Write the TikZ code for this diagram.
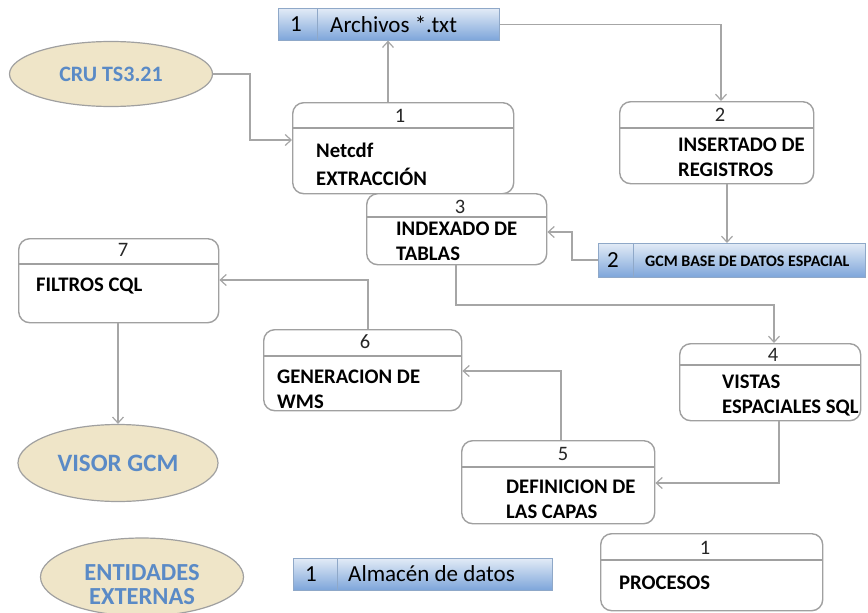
\documentclass[tikz,border=0pt]{standalone}
\usepackage{fontspec}
\setmainfont{Carlito}
\usetikzlibrary{shapes.geometric,arrows.meta,calc}
\definecolor{linegray}{HTML}{A6A6A6}
\definecolor{boxgray}{HTML}{A0A0A0}
\definecolor{exttext}{HTML}{5A8AC6}
\definecolor{extfill}{HTML}{EFE5C8}
\definecolor{storetop}{HTML}{E2EBF6}
\definecolor{storebot}{HTML}{7DA5DA}
\definecolor{storeedge}{HTML}{8FA8C8}
\tikzset{
  procbox/.style={draw=boxgray, line width=1.4pt, rounded corners=11pt, fill=white, inner sep=0pt, anchor=north west},
  procline/.style={draw=boxgray, line width=1.4pt},
  storebox/.style={draw=storeedge, line width=0.6pt, top color=storetop, bottom color=storebot, inner sep=0pt, anchor=north west},
  storecell/.style={draw=storeedge, line width=0.6pt},
  extbox/.style={ellipse, draw=boxgray, line width=1.2pt, fill=extfill, inner sep=0pt},
  exttxt/.style={font=\fontsize{22}{24}\selectfont\bfseries, text=exttext, align=center, inner sep=0pt},
  pnum/.style={font=\fontsize{20.5}{22}\selectfont, text=black!85, inner sep=0pt},
  ptext/.style={font=\fontsize{20.7}{25}\selectfont\bfseries, align=left, anchor=west, inner sep=0pt},
  stext/.style={font=\fontsize{23}{24}\selectfont, anchor=west, inner sep=0pt},
  flow/.style={draw=linegray, line width=1.3pt, -{Straight Barb[length=6pt,width=11pt,line width=1.2pt]}}
}
\begin{document}
\begin{tikzpicture}[x=1pt,y=-1pt]
\useasboundingbox (0,0) rectangle (868,613);

% ---------- external entities ----------
\node[extbox, minimum width=203pt, minimum height=65pt] (cru) at (111,74) {};
\node[exttxt] (crut) at (111,74) {CRU TS3.21};
\node[extbox, minimum width=200pt, minimum height=77pt] (visor) at (118,463) {};
\node[exttxt, font=\fontsize{25}{26}\selectfont\bfseries] (visort) at (118,463) {VISOR GCM};
\node[extbox, minimum width=203pt, minimum height=78pt] (ent) at (142,577) {};
\node[exttxt, font=\fontsize{24.5}{24}\selectfont\bfseries] (entt) at (142,585) {ENTIDADES\\EXTERNAS};

% ---------- data stores ----------
\node[storebox, minimum width=221pt, minimum height=32pt] (s1) at (278,8) {};
\draw[storecell] (317,8) -- (317,40);
\node[stext] (s1n) at (290,24) {1};
\node[stext] (s1t) at (330,24) {Archivos *.txt};

\node[storebox, minimum width=267pt, minimum height=34pt] (s2) at (598,243) {};
\draw[storecell] (633,243) -- (633,277);
\node[stext] (s2n) at (607,260) {2};
\node[stext, font=\fontsize{16}{18}\selectfont\bfseries] (s2t) at (645,261) {GCM BASE DE DATOS ESPACIAL};

\node[storebox, minimum width=259pt, minimum height=32pt] (sl) at (293,558) {};
\draw[storecell] (337,558) -- (337,590);
\node[stext] (sln) at (305,574) {1};
\node[stext] (slt) at (348,574) {Almacén de datos};

% ---------- processes ----------
\node[procbox, minimum width=221pt, minimum height=91pt] (p1) at (292,102) {};
\draw[procline] (p1.west |- 0,128) -- (p1.east |- 0,128);
\node[pnum] (p1n) at (400,116) {1};
\node[ptext] (p1t) at (316,164) {Netcdf\\[3pt]EXTRACCIÓN};

\node[procbox, minimum width=194pt, minimum height=82pt] (p2) at (619,101) {};
\draw[procline] (p2.west |- 0,128) -- (p2.east |- 0,128);
\node[pnum] (p2n) at (720,115) {2};
\node[ptext] (p2t) at (678,157) {INSERTADO DE\\REGISTROS};

\node[procbox, minimum width=180pt, minimum height=71pt] (p3) at (366,193) {};
\draw[procline] (p3.west |- 0,217) -- (p3.east |- 0,217);
\node[pnum] (p3n) at (460,207) {3};
\node[ptext] (p3t) at (396,241) {INDEXADO DE\\TABLAS};

\node[procbox, minimum width=181pt, minimum height=77pt] (p4) at (679,343) {};
\draw[procline] (p4.west |- 0,365) -- (p4.east |- 0,365);
\node[pnum] (p4n) at (773,355) {4};
\node[ptext] (p4t) at (722,396) {VISTAS\\ESPACIALES SQL};

\node[procbox, minimum width=193pt, minimum height=83pt] (p5) at (461,440) {};
\draw[procline] (p5.west |- 0,467) -- (p5.east |- 0,467);
\node[pnum] (p5n) at (563,454) {5};
\node[ptext] (p5t) at (506,499) {DEFINICION DE\\LAS CAPAS};

\node[procbox, minimum width=198pt, minimum height=81pt] (p6) at (263,329) {};
\draw[procline] (p6.west |- 0,356) -- (p6.east |- 0,356);
\node[pnum] (p6n) at (365,342) {6};
\node[ptext] (p6t) at (277,389) {GENERACION DE\\WMS};

\node[procbox, minimum width=200pt, minimum height=84pt] (p7) at (18,238) {};
\draw[procline] (p7.west |- 0,264) -- (p7.east |- 0,264);
\node[pnum] (p7n) at (123,250) {7};
\node[ptext] (p7t) at (36,286) {FILTROS CQL};

\node[procbox, minimum width=222pt, minimum height=77pt] (pl) at (600,533) {};
\draw[procline] (pl.west |- 0,560) -- (pl.east |- 0,560);
\node[pnum] (pln) at (705,548) {1};
\node[ptext] (plt) at (619,583) {PROCESOS};

% ---------- connectors ----------
\draw[flow] (cru.east) -- (250,0 |- cru.east) |- (p1.west |- 0,140);
\draw[flow] (388,0 |- p1.north) -- (388,0 |- s1.south);
\draw[flow] (s1.east) -- (721,0 |- s1.east) -- (721,0 |- p2.north);
\draw[flow] (727,0 |- p2.south) -- (727,0 |- s2.north);
\draw[flow] (s2.west |- 0,260) -- (572,260) |- (p3.east |- 0,232);
\draw[flow] (456,0 |- p3.south) -- (456,305) -| (774,0 |- p4.north);
\draw[flow] (779,0 |- p4.south) |- (p5.east |- 0,483);
\draw[flow] (561,0 |- p5.north) |- (p6.east |- 0,371);
\draw[flow] (368,0 |- p6.north) |- (p7.east |- 0,280);
\draw[flow] (118,0 |- p7.south) -- (visor.north);
\end{tikzpicture}
\end{document}
